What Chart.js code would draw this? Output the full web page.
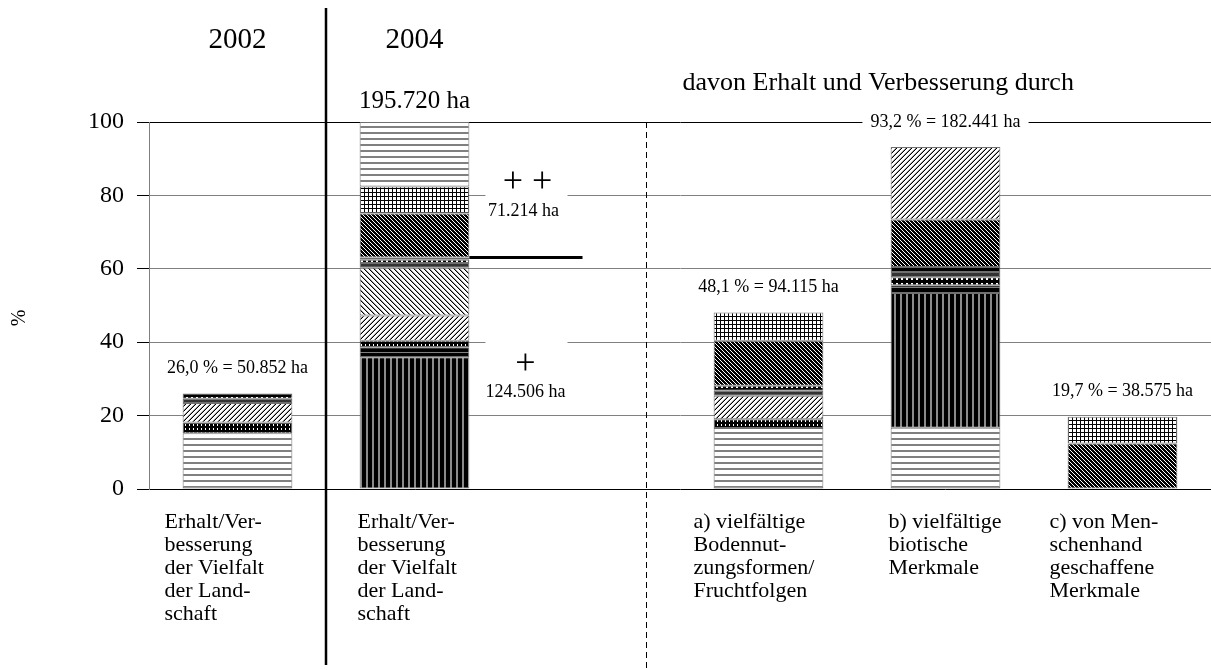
<!DOCTYPE html>
<html>
<head>
<meta charset="utf-8">
<script src="https://cdn.jsdelivr.net/npm/chart.js@4.4.1/dist/chart.umd.min.js"></script>
<style>
html, body { margin: 0; padding: 0; background: #fff; }
canvas { display: block; }
</style>
</head>
<body>
<canvas id="landscapeChart" width="1211" height="670"></canvas>
<script>
const serif = '"Liberation Serif", "Times New Roman", serif';

// columns: 2002, 2004, gap, a), b), c)
const categories = [
  ['Erhalt/Ver-', 'besserung', 'der Vielfalt', 'der Land-', 'schaft'],
  ['Erhalt/Ver-', 'besserung', 'der Vielfalt', 'der Land-', 'schaft'],
  '',
  ['a) vielfältige', 'Bodennut-', 'zungsformen/', 'Fruchtfolgen'],
  ['b) vielfältige', 'biotische', 'Merkmale'],
  ['c) von Men-', 'schenhand', 'geschaffene', 'Merkmale']
];
const yearLabels = ['2002', '2004'];
const totalLabels = ['26,0 % = 50.852 ha', '195.720 ha', '', '48,1 % = 94.115 ha', '93,2 % = 182.441 ha', '19,7 % = 38.575 ha'];
const yTicks = [0, 20, 40, 60, 80, 100];

// shares in %, stacked bottom to top (null = not in this column)
const horizontalLow = [15.2, null, null, 16.6, 16.7, null];
const verticalDark  = [null, 35.9, null, null, 36.7, null];
const blackBand     = [null, 2.7, null, null, 2.1, null];
const dottedDark    = [2.9, 1.8, null, 2.4, null, null];
const forwardLow    = [5.3, 6.9, null, 6.4, null, null];
const backwardLight = [null, 13.0, null, null, null, null];
const dottedLow     = [null, null, null, null, 2.2, null];
const grayBand      = [1.2, 1.3, null, 1.4, 1.4, null];
const dottedWhite   = [1.4, 0.9, null, 1.3, 1.4, null];
const blackThin     = [null, 0.6, null, null, null, null];
const backwardDark  = [null, 12.0, null, 12.3, 12.9, 12.4];
const forwardHigh   = [null, null, null, null, 19.8, null];
const checkered     = [null, 7.3, null, 7.7, null, 7.3];
const horizontalTop = [null, 17.6, null, null, null, null];

// 2004 split: "++" part above, "+" part below
const splitAbove = ['+ +', '71.214 ha'];
const splitBelow = ['+', '124.506 ha'];
const lowerGroupCount = 10; // datasets belonging to the "+" part

const ctx = document.getElementById('landscapeChart').getContext('2d');

function tile(w, h, bg, fg, pixels, soft) {
  const c = document.createElement('canvas');
  c.width = w; c.height = h;
  const g = c.getContext('2d');
  g.fillStyle = bg; g.fillRect(0, 0, w, h);
  if (soft) {
    g.fillStyle = soft[0];
    soft[1].forEach(([px, py, pw = 1, ph = 1]) => g.fillRect(px, py, pw, ph));
  }
  g.fillStyle = fg;
  pixels.forEach(([px, py, pw = 1, ph = 1]) => g.fillRect(px, py, pw, ph));
  return ctx.createPattern(c, 'repeat');
}

const fills = {
  horizontal: tile(6, 6, '#fff', '#808080', [[0, 0, 6, 2]]),
  vertical: tile(6, 6, '#000', '#8a8a8a', [[0, 0, 2, 6]]),
  checkered: tile(4, 4, '#fff', '#000', [[0, 0, 4, 1], [0, 0, 1, 4]]),
  backwardDark: tile(4, 4, '#000', '#fff', [[0, 0], [1, 1], [2, 2], [3, 3]]),
  backwardLight: tile(5, 5, '#fff', '#000', [[0, 0], [1, 1], [2, 2], [3, 3], [4, 4]],
    ['#999', [[1, 0], [2, 1], [3, 2], [4, 3], [0, 4]]]),
  forward: tile(5, 5, '#fff', '#000', [[4, 0], [3, 1], [2, 2], [1, 3], [0, 4]],
    ['#999', [[3, 0], [2, 1], [1, 2], [0, 3], [4, 4]]]),
  dottedDark: tile(4, 4, '#000', '#fff', [[1, 0, 1, 2]]),
  dottedWhite: tile(5, 6, '#000', '#fff', [[1, 1, 2, 3]]),
  blackBand: tile(4, 5, '#000', '#808080', [[0, 2, 4, 1]])
};

const series = [
  [horizontalLow, fills.horizontal],
  [verticalDark, fills.vertical],
  [blackBand, fills.blackBand],
  [dottedDark, fills.dottedDark],
  [forwardLow, fills.forward],
  [backwardLight, fills.backwardLight],
  [dottedLow, fills.dottedWhite],
  [grayBand, '#333'],
  [dottedWhite, fills.dottedWhite],
  [blackThin, '#000'],
  [backwardDark, fills.backwardDark],
  [forwardHigh, fills.forward],
  [checkered, fills.checkered],
  [horizontalTop, fills.horizontal]
];

const datasets = series.map(([data, fill]) => ({
  data,
  backgroundColor: fill,
  borderColor: '#707070',
  borderWidth: 1,
  borderSkipped: false,
  barPercentage: 0.62,
  categoryPercentage: 1
}));

// category text blocks: left edge relative to the column centre
const labelShift = [-73, -57, 0, -75, -57, -73];

function boxedText(c, text, cx, cy, font, padX, boxH) {
  c.font = font;
  const w = c.measureText(text).width;
  c.fillStyle = '#fff';
  c.fillRect(cx - w / 2 - padX, cy - boxH / 2, w + padX * 2, boxH);
  c.fillStyle = '#000';
  c.fillText(text, cx, cy);
}

const annotations = {
  id: 'annotations',
  afterDraw(chart) {
    const c = chart.ctx;
    const { x, y } = chart.scales;
    const area = chart.chartArea;
    const ds = chart.data.datasets;
    const totals = categories.map((_, i) => ds.reduce((s, d) => s + (d.data[i] || 0), 0));
    const barHalf = chart.getDatasetMeta(0).data[0].width / 2;

    c.save();
    c.textAlign = 'center';
    c.textBaseline = 'middle';

    // solid divider between the years
    c.strokeStyle = '#000';
    c.lineWidth = 2.5;
    c.beginPath();
    c.moveTo(x.getPixelForValue(0.5), 8);
    c.lineTo(x.getPixelForValue(0.5), 665);
    c.stroke();

    // dashed divider before the breakdown
    c.lineWidth = 1;
    c.setLineDash([6, 4]);
    c.beginPath();
    c.moveTo(Math.round(x.getPixelForValue(2.31)) + 0.5, area.top);
    c.lineTo(Math.round(x.getPixelForValue(2.31)) + 0.5, 668);
    c.stroke();
    c.setLineDash([]);

    // year headers
    c.fillStyle = '#000';
    c.font = `29px ${serif}`;
    yearLabels.forEach((t, i) => c.fillText(t, x.getPixelForValue(i), 40));

    c.font = `26px ${serif}`;
    c.fillText('davon Erhalt und Verbesserung durch', x.getPixelForValue(3.62), 83);

    // category captions under the axis
    c.textAlign = 'left';
    c.font = `22px ${serif}`;
    categories.forEach((lines, i) => {
      [].concat(lines).forEach((line, k) => {
        c.fillText(line, x.getPixelForValue(i) + labelShift[i], area.bottom + 33 + k * 23);
      });
    });
    c.textAlign = 'center';

    // totals above the bars
    totalLabels.forEach((t, i) => {
      if (!t) return;
      const big = i === 1;
      const cy = y.getPixelForValue(totals[i]) - (big ? 21 : 25);
      boxedText(c, t, x.getPixelForValue(i), cy, `${big ? 25 : 18}px ${serif}`, 8, 18);
    });

    // split of the 2004 column
    const cx = x.getPixelForValue(1) + 111;
    const lowerShare = ds.slice(0, lowerGroupCount).reduce((s, d) => s + (d.data[1] || 0), 0);
    c.fillStyle = '#fff';
    c.fillRect(cx - 40, y.getPixelForValue(80) - 3, 82, 6);
    c.fillRect(cx - 40, y.getPixelForValue(40) - 3, 82, 6);
    c.fillStyle = '#000';
    c.font = `36px ${serif}`;
    c.fillText(splitAbove[0], cx + 2, y.getPixelForValue(83.5));
    c.fillText(splitBelow[0], cx, y.getPixelForValue(34.0));
    c.font = `18px ${serif}`;
    c.fillText(splitAbove[1], cx - 2, y.getPixelForValue(75.6));
    c.fillText(splitBelow[1], cx, y.getPixelForValue(26.4));

    c.lineWidth = 3;
    c.beginPath();
    c.moveTo(x.getPixelForValue(1) + barHalf, y.getPixelForValue(lowerShare));
    c.lineTo(x.getPixelForValue(1) + 168, y.getPixelForValue(lowerShare));
    c.stroke();

    // axis unit
    c.translate(20, 318);
    c.rotate(-Math.PI / 2);
    c.font = `20px ${serif}`;
    c.fillText('%', 0, 0);
    c.restore();
  }
};

new Chart(ctx, {
  type: 'bar',
  data: { labels: categories, datasets },
  options: {
    responsive: false,
    animation: false,
    devicePixelRatio: 1,
    layout: { padding: { top: 122, left: 0, right: 0, bottom: 0 } },
    plugins: { legend: { display: false }, tooltip: { enabled: false } },
    scales: {
      x: {
        stacked: true,
        offset: true,
        grid: { display: false },
        border: { display: false },
        ticks: { display: false },
        afterFit(s) { s.height = 181; s.paddingLeft = 0; s.paddingRight = 0; }
      },
      y: {
        stacked: true,
        min: 0,
        max: 100,
        afterBuildTicks(s) { s.ticks = yTicks.map(v => ({ value: v })); },
        grid: {
          color: g => (g.tick && (g.tick.value === 0 || g.tick.value === 100)) ? '#000' : '#808080',
          tickColor: '#000',
          tickLength: 12,
          lineWidth: 1
        },
        border: { color: '#808080', width: 1 },
        ticks: { padding: 13, color: '#000', font: { family: serif, size: 24 } },
        afterFit(s) { s.width = 149; }
      }
    }
  },
  plugins: [annotations]
});
</script>
</body>
</html>
